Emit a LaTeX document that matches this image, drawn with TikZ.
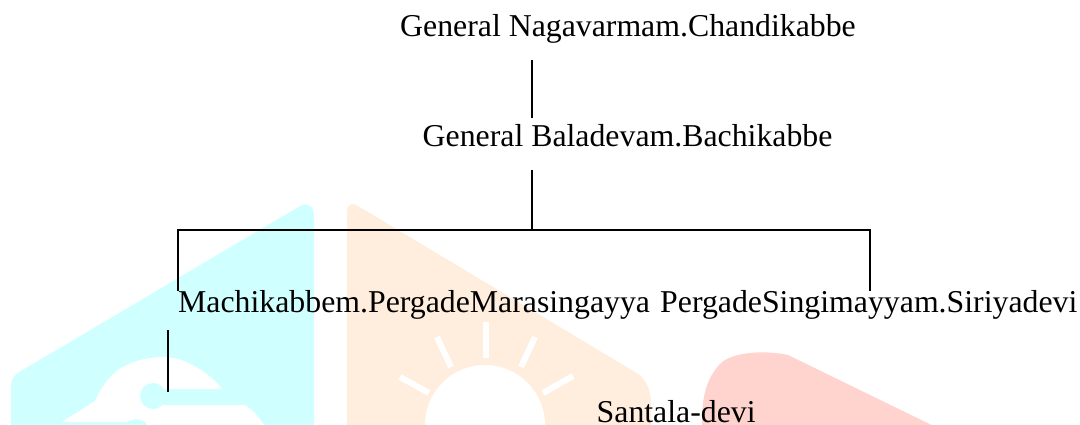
\documentclass[tikz,border=0pt]{standalone}
\usepackage{fontspec}
\setmainfont{Liberation Serif}
\definecolor{wmcyan}{HTML}{CFFFFF}
\definecolor{wmorange}{HTML}{FFEEDD}
\definecolor{wmred}{HTML}{FFD3CE}
\tikzset{
  person/.style={anchor=base west,inner sep=0pt,font=\fontsize{31.8}{36}\selectfont,text=black},
  link/.style={draw=black,line width=2pt},
  ray/.style={draw=white,line width=6pt}
}
\begin{document}
\begin{tikzpicture}[x=1pt,y=-1pt]
\useasboundingbox (0,0) rectangle (1080,425);
\begin{scope}
\clip (0,0) rectangle (1080,425);
% watermark: cyan
\fill[wmcyan] (11,425) -- (11,388) .. controls (11,378) and (15,374) .. (21,371) -- (300,206) .. controls (308,202) and (314,206) .. (314,216) -- (314,425) -- cycle;
\fill[white] (62,422) -- (95,401) .. controls (100,390) and (110,372) .. (127,365) .. controls (150,354) and (175,356) .. (186,362) .. controls (200,368) and (214,378) .. (222,389) -- (153,389) -- (153,405) -- (244,405) .. controls (252,408) and (262,420) .. (268,432) -- (149,432) .. controls (149,420) and (138,416) .. (127,422) -- cycle;
\fill[wmcyan] (153,396) circle[radius=13];
% watermark: orange
\fill[wmorange] (347,425) -- (347,212) .. controls (347,204) and (352,202) .. (358,206) -- (635,372) .. controls (646,378) and (651,390) .. (651,403) -- (651,425) -- cycle;
\fill[white] (485,425) circle[radius=60];
\draw[ray] (486,322) -- (486,358);
\draw[ray] (437,337) -- (451,367);
\draw[ray] (535,337) -- (521,367);
\draw[ray] (400,377) -- (429,393);
\draw[ray] (573,376) -- (543,393);
% watermark: red
\fill[wmred] (702,425) .. controls (702,405) and (703,380) .. (722,362) .. controls (735,352) and (765,350) .. (788,355) -- (946,432) -- (702,432) -- cycle;
\end{scope}
% people
\node[person,text height=22pt,text depth=23.5pt] (a) at (400,36.5) {General Nagavarmam.Chandikabbe};
\node[person,text height=28.5pt,text depth=23.5pt] (b) at (422.5,146.5) {General Baladevam.Bachikabbe};
\node[person,text height=21pt,text depth=18pt] (c) at (178,312) {Machikabbem.PergadeMarasingayya};
\node[person,text height=21pt,text depth=18pt] (d) at (660,312) {PergadeSingimayyam.Siriyadevi};
\node[person,text height=30pt,text depth=0pt] (e) at (596.5,422) {Santala-devi};
% connector guides
\coordinate (trunk) at (532,0);
\coordinate (bus) at (532,230);
\coordinate (rightdrop) at (870,0);
\coordinate (leftdrop) at (168,0);
% connectors
\draw[link] (a.south -| trunk) -- (b.north -| trunk);
\draw[link] (b.south -| trunk) -- (bus);
\draw[link] (c.north west) |- (bus) -| (d.north -| rightdrop);
\draw[link] (c.south -| leftdrop) -- (e.north -| leftdrop);
\end{tikzpicture}
\end{document}
